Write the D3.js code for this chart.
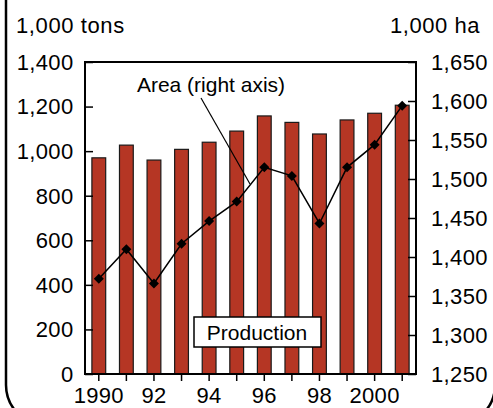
<!DOCTYPE html>
<html><head><meta charset="utf-8">
<script src="https://cdn.jsdelivr.net/npm/d3@7"></script>
<style>html,body{margin:0;padding:0;background:#fff;} text{font-family:"Liberation Sans",Arial,sans-serif;fill:#000;}</style>
</head><body>
<script>
const years = [1990,1991,1992,1993,1994,1995,1996,1997,1998,1999,2000,2001];
const production = [970,1027,960,1008,1040,1090,1158,1129,1077,1140,1170,1206];
const area = [1372,1410,1366,1417,1446,1471,1515,1504,1443,1515,1544,1594];
const leftTicks = [0,200,400,600,800,1000,1200,1400];
const rightTicks = [1250,1300,1350,1400,1450,1500,1550,1600,1650];
const yearLabels = {1990:"1990",1992:"92",1994:"94",1996:"96",1998:"98",2000:"2000"};

const W=493,H=408;
const svg=d3.select("body").append("svg").attr("width",W).attr("height",H);
const L=85,R=416,T=62,B=374;
const x=d3.scaleBand().domain(years).range([L,R]).paddingInner(0.5).paddingOuter(0.25);
const yL=d3.scaleLinear().domain([0,1400]).range([B,T]);
const yR=d3.scaleLinear().domain([1250,1650]).range([B,T]);
const fmt=d3.format(",");

// outer rounded frame
svg.append("rect").attr("x",6).attr("y",-40).attr("width",489).attr("height",465)
  .attr("rx",40).attr("fill","none").attr("stroke","#000").attr("stroke-width",2.5);

// bars
svg.append("g").selectAll("rect").data(years).join("rect")
  .attr("x",d=>x(d)).attr("width",x.bandwidth())
  .attr("y",(d,i)=>yL(production[i])).attr("height",(d,i)=>B-yL(production[i]))
  .attr("fill","#b53624").attr("stroke","#1a1a1a").attr("stroke-width",1.2);

// plot frame
svg.append("rect").attr("x",L).attr("y",T).attr("width",R-L).attr("height",B-T)
  .attr("fill","none").attr("stroke","#000").attr("stroke-width",2);

// left axis
const gl=svg.append("g").attr("transform",`translate(${L},0)`)
  .call(d3.axisRight(yL).tickValues(leftTicks).tickSize(8).tickFormat(""));
gl.select(".domain").remove();
gl.selectAll("line").attr("stroke","#000").attr("stroke-width",1.5);
svg.append("g").selectAll("text").data(leftTicks).join("text")
  .attr("x",73.5).attr("y",d=>yL(d)).attr("dy","0.36em").attr("text-anchor","end")
  .attr("font-size",22).attr("letter-spacing",0.35).text(d=>fmt(d));

// right axis
const gr=svg.append("g").attr("transform",`translate(${R},0)`)
  .call(d3.axisLeft(yR).tickValues(rightTicks).tickSize(8).tickFormat(""));
gr.select(".domain").remove();
gr.selectAll("line").attr("stroke","#000").attr("stroke-width",1.5);
svg.append("g").selectAll("text").data(rightTicks).join("text")
  .attr("x",431).attr("y",d=>yR(d)).attr("dy","0.36em").attr("text-anchor","start")
  .attr("font-size",22).attr("letter-spacing",0.35).text(d=>fmt(d));

// bottom axis
const gb=svg.append("g").attr("transform",`translate(0,${B})`)
  .call(d3.axisBottom(x).tickSize(7).tickFormat(""));
gb.select(".domain").remove();
gb.selectAll("line").attr("stroke","#000").attr("stroke-width",1.5);
svg.append("g").selectAll("text").data(years.filter(d=>yearLabels[d])).join("text")
  .attr("x",d=>x(d)+x.bandwidth()/2).attr("y",403).attr("text-anchor","middle")
  .attr("font-size",22).attr("letter-spacing",0.3).text(d=>yearLabels[d]);

// area line
const line=d3.line().x((d,i)=>x(years[i])+x.bandwidth()/2).y(d=>yR(d));
svg.append("path").datum(area).attr("d",line).attr("fill","none").attr("stroke","#000").attr("stroke-width",1.5);
svg.append("g").selectAll("path").data(area).join("path")
  .attr("d",d3.symbol(d3.symbolSquare,50)())
  .attr("transform",(d,i)=>`translate(${x(years[i])+x.bandwidth()/2},${yR(d)}) rotate(45)`)
  .attr("fill","#000");

// annotations
svg.append("text").attr("x",211).attr("y",92).attr("text-anchor","middle").attr("font-size",21).text("Area (right axis)");
svg.append("line").attr("x1",201).attr("y1",98).attr("x2",250).attr("y2",184).attr("stroke","#000").attr("stroke-width",1.2);
svg.append("rect").attr("x",194).attr("y",317).attr("width",127).attr("height",30)
  .attr("fill","#fff").attr("stroke","#000").attr("stroke-width",1.5);
svg.append("text").attr("x",257).attr("y",340).attr("text-anchor","middle").attr("font-size",21).text("Production");

// axis titles
svg.append("text").attr("x",16).attr("y",33).attr("font-size",22).attr("letter-spacing",0.6).text("1,000 tons");
svg.append("text").attr("x",480).attr("y",33).attr("text-anchor","end").attr("font-size",22).attr("letter-spacing",0.55).text("1,000 ha");
</script>
</body></html>
